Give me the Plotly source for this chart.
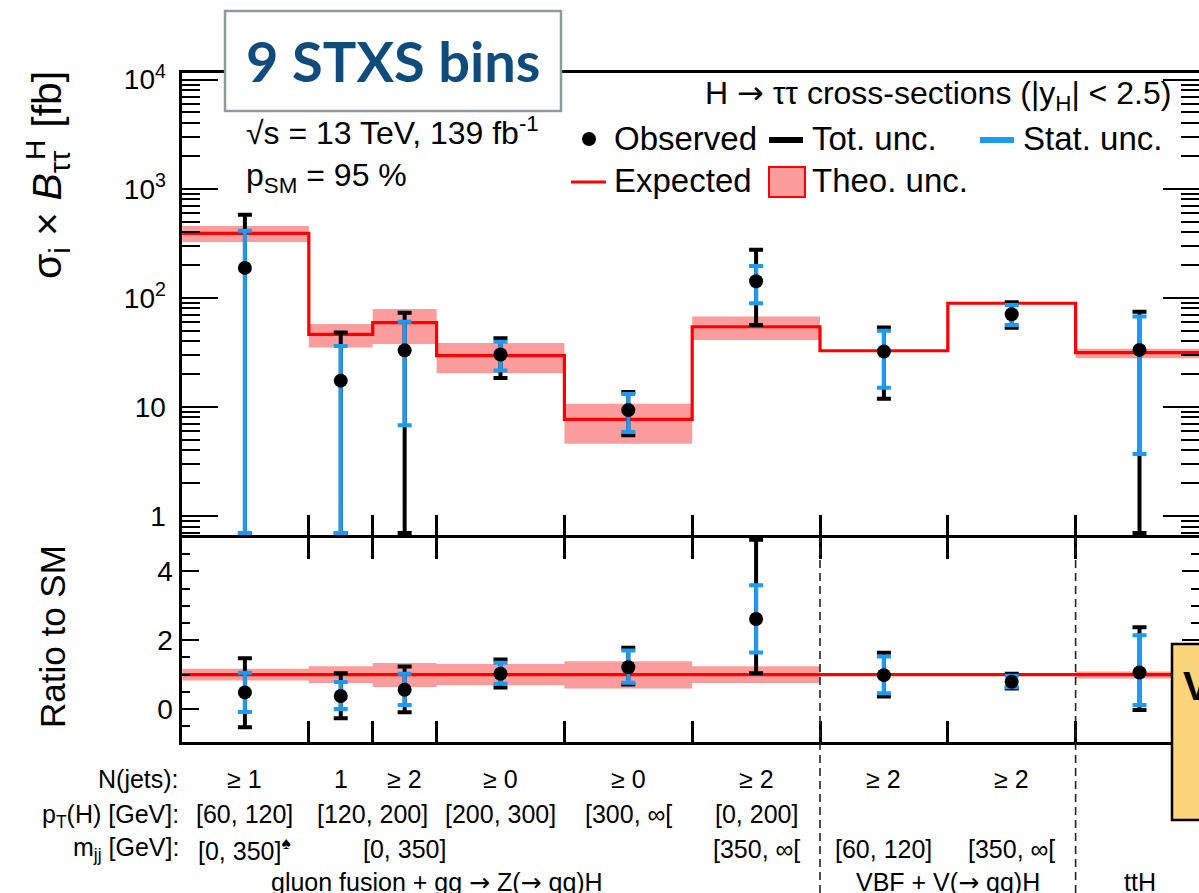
import plotly.graph_objects as go

# ---------------------------------------------------------------------------
# H -> tautau STXS cross-sections (|y_H| < 2.5), nine bins
# ---------------------------------------------------------------------------
bin_edges = [0, 2, 3, 4, 6, 8, 10, 12, 14, 16]          # bin boundaries (plot units)

# SM expectation and its theory band [fb]
expected = [390, 46.3, 59.1, 29.5, 7.7, 54.3, 32.7, 89.1, 31.4]
theo_lo  = [324, 35.0, 37.8, 20.3, 4.6, 41.0, 32.7, 89.1, 27.9]
theo_hi  = [455, 57.5, 79.0, 38.5, 10.7, 67.5, 32.7, 89.1, 34.2]

# observed cross-sections with total and statistical intervals [fb]
observed = [188, 17.4, 33.0, 30.2, 9.35, 142, 32.2, 70.6, 33.3]
tot_hi   = [576, 48.0, 73.0, 42.5, 13.7, 275, 53.5, 91.0, 74.6]
tot_lo   = [-208, -12.5, -5.7, 18.4, 5.5, 56.3, 11.9, 53.2, -0.9]
stat_hi  = [412, 36.2, 60.4, 39.6, 13.1, 195.5, 50.0, 86.0, 67.3]
stat_lo  = [-34, 0.0, 6.8, 21.6, 5.9, 89.0, 15.0, 56.4, 3.7]

# arrow glyph taken from a font with a wider arrow
ARROW = "<span style='font-family:DejaVu Sans'>→</span>"

# bin description rows
njets_lbl = ["≥ 1", "1", "≥ 2", "≥ 0", "≥ 0", "≥ 2", "≥ 2", "≥ 2"]
njets_pos = [1.0, 2.5, 3.5, 5.0, 7.0, 9.0, 11.0, 13.0]
pt_lbl = ["[60, 120]", "[120, 200]", "[200, 300]", "[300, ∞[", "[0, 200]"]
pt_pos = [1.0, 3.0, 5.0, 7.0, 9.0]
mjj_lbl = ["[0, 350]<sup>♠</sup>", "[0, 350]", "[350, ∞[", "[60, 120]", "[350, ∞["]
mjj_pos = [1.0, 3.5, 9.0, 11.0, 13.0]
proc_lbl = [f"gluon fusion + gg {ARROW} Z({ARROW} qq)H", f"VBF + V({ARROW} qq)H", "ttH"]
proc_pos = [4.0, 12.0, 15.0]
group_bounds = [10, 14]

# ---------------------------------------------------------------------------
W, H = 1199, 893
FONT = "Liberation Sans, Arial, Helvetica, sans-serif"
RED = "#ff0000"
BAND = "#fd9c9c"
BLUE = "#1b9bf2"
LW = 2.5                      # frame line width

X0_PX, UNIT_PX = 181, 63.9    # x = 0 position and pixels per plot unit
TOP_Y0, SPLIT_Y, BOT_Y1 = 72, 536.5, 743
LOG_ONE_PX, DECADE_PX = 516, 109.1      # upper panel: y of "1" and px per decade
RATIO_ZERO_PX, RATIO_UNIT_PX = 709, 34.4

# plotly draws axis lines just outside the plotting domain, so the domains
# are inset by half a line width to put the frame lines on the panel edges
x_dom_px = [X0_PX + LW / 2, W]
top_dom_px = [TOP_Y0 + LW / 2, SPLIT_Y - LW / 2]
bot_dom_px = [SPLIT_Y + LW / 2, BOT_Y1 - LW / 2]

x_range = [(x_dom_px[0] - X0_PX) / UNIT_PX, (x_dom_px[1] - X0_PX) / UNIT_PX]
top_log_range = [(LOG_ONE_PX - top_dom_px[1]) / DECADE_PX,
                 (LOG_ONE_PX - top_dom_px[0]) / DECADE_PX]
ratio_range = [(RATIO_ZERO_PX - bot_dom_px[1]) / RATIO_UNIT_PX,
               (RATIO_ZERO_PX - bot_dom_px[0]) / RATIO_UNIT_PX]


def px(x):
    return x / W


def py(y):
    return 1 - y / H


centers = [(a + b) / 2 for a, b in zip(bin_edges[:-1], bin_edges[1:])]


def step(vals):
    return list(vals) + [vals[-1]]


def clip(v, lo, hi):
    return min(max(v, lo), hi)


fig = go.Figure()

# --------------------------- upper panel -----------------------------------
top_floor = 10 ** (top_log_range[0] + 0.02)
top_ceil = 10 ** (top_log_range[1] - 0.02)

fig.add_trace(go.Scatter(x=bin_edges, y=step(theo_lo), mode="lines",
                         line=dict(width=0, shape="hv"), hoverinfo="skip",
                         xaxis="x", yaxis="y"))
fig.add_trace(go.Scatter(x=bin_edges, y=step(theo_hi), mode="lines",
                         line=dict(width=0, shape="hv"), fill="tonexty",
                         fillcolor=BAND, xaxis="x", yaxis="y"))
fig.add_trace(go.Scatter(x=bin_edges, y=step(expected), mode="lines",
                         line=dict(color=RED, width=3.2, shape="hv"),
                         xaxis="x", yaxis="y"))


def err_trace(y, hi, lo, color, floor, ceil, xa, ya):
    up = [clip(h, floor, ceil) - v for v, h in zip(y, hi)]
    dn = [v - clip(l, floor, ceil) for v, l in zip(y, lo)]
    return go.Scatter(
        x=centers, y=y, mode="markers",
        marker=dict(size=1, color="rgba(0,0,0,0)"),
        error_y=dict(type="data", symmetric=False, array=up, arrayminus=dn,
                     color=color, thickness=4, width=7),
        xaxis=xa, yaxis=ya)


fig.add_trace(err_trace(observed, tot_hi, tot_lo, "black", top_floor, top_ceil, "x", "y"))
fig.add_trace(err_trace(observed, stat_hi, stat_lo, BLUE, top_floor, top_ceil, "x", "y"))
fig.add_trace(go.Scatter(x=centers, y=observed, mode="markers",
                         marker=dict(size=14, color="black"),
                         xaxis="x", yaxis="y"))

# --------------------------- ratio panel -----------------------------------
r_exp = [1.0 for _ in expected]
r_theo_lo = [l / e for l, e in zip(theo_lo, expected)]
r_theo_hi = [h / e for h, e in zip(theo_hi, expected)]
r_obs = [o / e for o, e in zip(observed, expected)]
r_tot_hi = [v / e for v, e in zip(tot_hi, expected)]
r_tot_lo = [v / e for v, e in zip(tot_lo, expected)]
r_stat_hi = [v / e for v, e in zip(stat_hi, expected)]
r_stat_lo = [v / e for v, e in zip(stat_lo, expected)]

r_floor = ratio_range[0] + 0.06
r_ceil = ratio_range[1] - 0.06

fig.add_trace(go.Scatter(x=bin_edges, y=step(r_theo_lo), mode="lines",
                         line=dict(width=0, shape="hv"), xaxis="x2", yaxis="y2"))
fig.add_trace(go.Scatter(x=bin_edges, y=step(r_theo_hi), mode="lines",
                         line=dict(width=0, shape="hv"), fill="tonexty",
                         fillcolor=BAND, xaxis="x2", yaxis="y2"))
fig.add_trace(go.Scatter(x=bin_edges, y=step(r_exp), mode="lines",
                         line=dict(color=RED, width=3.2, shape="hv"),
                         xaxis="x2", yaxis="y2"))
fig.add_trace(err_trace(r_obs, r_tot_hi, r_tot_lo, "black", r_floor, r_ceil, "x2", "y2"))
fig.add_trace(err_trace(r_obs, r_stat_hi, r_stat_lo, BLUE, r_floor, r_ceil, "x2", "y2"))
fig.add_trace(go.Scatter(x=centers, y=r_obs, mode="markers",
                         marker=dict(size=14, color="black"),
                         xaxis="x2", yaxis="y2"))

# --------------------------- axes -------------------------------------------
x_dom = [px(x_dom_px[0]), px(x_dom_px[1])]
xcommon = dict(range=x_range, tickvals=bin_edges, ticks="inside", ticklen=21,
               tickwidth=2.5, tickcolor="black", showticklabels=False,
               showline=True, linewidth=LW, linecolor="black", showgrid=False,
               zeroline=False, domain=x_dom, automargin=False)

log_major = [1, 10, 100, 1000, 10000]
log_minor = [m * 10 ** d for d in range(-1, 5) for m in range(2, 10)]
log_minor = [v for v in log_minor if v not in log_major]

fig.update_layout(
    width=W, height=H,
    margin=dict(l=0, r=0, t=0, b=0, pad=0, autoexpand=False),
    showlegend=False,
    paper_bgcolor="white", plot_bgcolor="white",
    font=dict(family=FONT, color="black", size=24),
    xaxis=dict(**xcommon, anchor="y", mirror=True),
    xaxis2=dict(**xcommon, anchor="y2", mirror="ticks", matches="x"),
    yaxis=dict(type="log", range=top_log_range,
               domain=[py(top_dom_px[1]), py(top_dom_px[0])],
               anchor="x", tickvals=log_major,
               ticktext=["1", "10", "10<sup>2</sup>", "10<sup>3</sup>", "10<sup>4</sup>"],
               ticks="inside", ticklen=36, tickwidth=2, tickcolor="black",
               tickfont=dict(size=28), ticklabelstandoff=8,
               minor=dict(tickvals=log_minor, ticks="inside", ticklen=18,
                          tickwidth=2, tickcolor="black", showgrid=False),
               showline=True, linewidth=LW, linecolor="black", mirror="ticks",
               showgrid=False, zeroline=False, automargin=False),
    yaxis2=dict(range=ratio_range, domain=[py(bot_dom_px[1]), py(bot_dom_px[0])],
                anchor="x2", tickvals=[0, 2, 4], ticks="inside", ticklen=17,
                tickwidth=2, tickcolor="black", tickfont=dict(size=28),
                ticklabelstandoff=1,
                minor=dict(dtick=0.5, ticks="inside", ticklen=8, tickwidth=2,
                           tickcolor="black", showgrid=False),
                showline=True, linewidth=LW, linecolor="black", mirror="ticks",
                showgrid=False, zeroline=False, automargin=False),
)

shapes = []
annotations = []

# dashed separators between production-mode groups
for xb in group_bounds:
    shapes.append(dict(type="line", xref="x2", yref="paper", x0=xb, x1=xb,
                       y0=0, y1=py(SPLIT_Y),
                       line=dict(color="#222222", width=1.6, dash="8px,5px"),
                       layer="above"))


def note(text, x, y, size, xanchor="left", **kw):
    annotations.append(dict(text=text, x=px(x), y=py(y), xref="paper", yref="paper",
                            xanchor=xanchor, yanchor="middle", showarrow=False,
                            font=dict(size=size, family=kw.pop("family", FONT),
                                      color=kw.pop("color", "black")), **kw))


# axis titles
note("σ<sub>i</sub> × <i>B</i><sub>ττ</sub>  [fb]", 50, 175, 41, xanchor="center",
     textangle=-90)
note("H", 35, 150, 28, xanchor="center", textangle=-90)
note("Ratio to SM", 52, 637, 35, xanchor="center", textangle=-90)

# header texts
note(f"H {ARROW} ττ cross-sections (|y<sub>H</sub>| < 2.5)", 1173, 95, 32,
     xanchor="right")
note("√s = 13 TeV, 139 fb<sup>-1</sup>", 244, 131, 32)
note("p<sub>SM</sub> = 95 %", 244, 178, 32)

# legend
shapes.append(dict(type="circle", xref="paper", yref="paper",
                   x0=px(582), x1=px(596), y0=py(132), y1=py(146),
                   fillcolor="black", line=dict(width=0)))
note("Observed", 612, 139, 33)
shapes.append(dict(type="line", xref="paper", yref="paper", x0=px(769), x1=px(803),
                   y0=py(140), y1=py(140), line=dict(color="black", width=6)))
note("Tot. unc.", 810, 139, 33)
shapes.append(dict(type="line", xref="paper", yref="paper", x0=px(980), x1=px(1014),
                   y0=py(140), y1=py(140), line=dict(color=BLUE, width=6)))
note("Stat. unc.", 1021, 139, 33)
shapes.append(dict(type="line", xref="paper", yref="paper", x0=px(571), x1=px(606),
                   y0=py(182), y1=py(182), line=dict(color=RED, width=3)))
note("Expected", 612, 180, 33)
shapes.append(dict(type="rect", xref="paper", yref="paper", x0=px(769), x1=px(805),
                   y0=py(197), y1=py(167), fillcolor=BAND,
                   line=dict(color=RED, width=2)))
note("Theo. unc.", 810, 180, 33)

# bin description rows
note("N(jets):", 181, 779, 25, xanchor="right")
note("p<sub>T</sub>(H) [GeV]:", 181, 816, 25, xanchor="right")
note("m<sub>jj</sub> [GeV]:", 181, 849, 25, xanchor="right")


def row(labels, positions, y):
    for t, xv in zip(labels, positions):
        annotations.append(dict(text=t, x=xv, y=py(y), xref="x2", yref="paper",
                                xanchor="center", yanchor="middle", showarrow=False,
                                font=dict(size=25, family=FONT, color="black")))


row(njets_lbl, njets_pos, 779)
row(pt_lbl, pt_pos, 814)
row(mjj_lbl, mjj_pos, 849)
row(proc_lbl, proc_pos, 882)

# title box
shapes.append(dict(type="rect", xref="paper", yref="paper", x0=px(225), x1=px(561),
                   y0=py(111), y1=py(11), fillcolor="white",
                   line=dict(color="#8a9c9c", width=2.5), layer="above"))
note("<b>9 STXS bins</b>", 393, 60, 56, xanchor="center",
     family="Lato, Open Sans, sans-serif", color="#0f4c7c")

# side callout box
shapes.append(dict(type="rect", xref="paper", yref="paper", x0=px(1172), x1=px(1280),
                   y0=py(820), y1=py(644), fillcolor="#fcd47c",
                   line=dict(color="black", width=2.5), layer="above"))
note("<b>V</b>", 1181, 686, 40)

fig.update_layout(shapes=shapes, annotations=annotations)
fig.write_html("out.html")
